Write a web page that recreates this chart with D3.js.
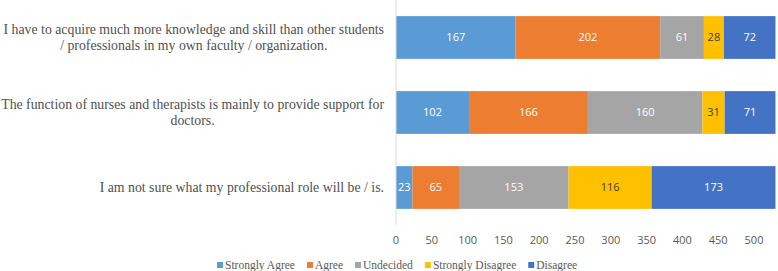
<!DOCTYPE html>
<html>
<head>
<meta charset="utf-8">
<script src="https://cdn.jsdelivr.net/npm/d3@7"></script>
<style>
  body { margin: 0; background: #fff; }
  svg { display: block; }
</style>
</head>
<body>
<div id="canvas"></div>
<script>
// DATA
const statements = [
  ["I have to acquire much more knowledge and skill than other students", "/ professionals in my own faculty / organization."],
  ["The function of nurses and therapists is mainly to provide support for", "doctors."],
  ["I am not sure what my professional role will be / is."]
];
const responses = ["Strongly Agree", "Agree", "Undecided", "Strongly Disagree", "Disagree"];
const stronglyAgree = [167, 102, 23];
const agree = [202, 166, 65];
const undecided = [61, 160, 153];
const stronglyDisagree = [28, 31, 116];
const disagree = [72, 71, 173];
const ticks = [0, 50, 100, 150, 200, 250, 300, 350, 400, 450, 500];

const colors = ["#5B9BD5", "#ED7D31", "#A5A5A5", "#FFC000", "#4472C4"];

// DIMENSIONS
const width = 778;
const height = 271;
const margin = { top: 0, left: 396, bottom: 46 };

const canvas = d3.select("#canvas")
  .append("svg")
  .attr("width", width)
  .attr("height", height);

// SCALES
const x = d3.scaleLinear().domain([0, 500]).range([margin.left, 754]);
const y = d3.scaleBand()
  .domain(d3.range(statements.length))
  .range([margin.top, height - margin.bottom])
  .paddingInner(0.43)
  .paddingOuter(0.215);

const rows = statements.map((s, i) => {
  const o = { i: i };
  o[responses[0]] = stronglyAgree[i];
  o[responses[1]] = agree[i];
  o[responses[2]] = undecided[i];
  o[responses[3]] = stronglyDisagree[i];
  o[responses[4]] = disagree[i];
  return o;
});
const stacked = d3.stack().keys(responses)(rows);

// BARS
const layers = canvas.selectAll("g.layer")
  .data(stacked)
  .join("g")
  .attr("class", "layer")
  .style("fill", (d, k) => colors[k]);

layers.selectAll("rect")
  .data(d => d)
  .join("rect")
  .attr("x", d => x(d[0]))
  .attr("y", d => y(d.data.i))
  .attr("width", d => x(d[1]) - x(d[0]))
  .attr("height", y.bandwidth());

// BAR LABELS
layers.each(function (layer, k) {
  d3.select(this).selectAll("text")
    .data(layer)
    .join("text")
    .attr("x", d => (x(d[0]) + x(d[1])) / 2)
    .attr("y", d => y(d.data.i) + y.bandwidth() / 2)
    .attr("dy", "0.35em")
    .attr("text-anchor", "middle")
    .style("font-family", "'Open Sans', sans-serif")
    .style("font-size", "11px")
    .style("fill", k === 3 ? "#404040" : "#fff")
    .text(d => d[1] - d[0]);
});

// AXIS LINE AT ZERO
canvas.append("line")
  .attr("x1", x(0)).attr("x2", x(0))
  .attr("y1", 0).attr("y2", 225)
  .style("stroke", "#d9d9d9")
  .style("stroke-width", 1);

// TICK LABELS
canvas.selectAll("text.tick")
  .data(ticks)
  .join("text")
  .attr("class", "tick")
  .attr("x", d => x(d))
  .attr("y", 244)
  .attr("text-anchor", "middle")
  .style("font-family", "'Open Sans', sans-serif")
  .style("font-size", "11px")
  .style("fill", "#595959")
  .text(d => d);

// CATEGORY LABELS
const labelRight = 384;
statements.forEach((lines, i) => {
  const g = canvas.append("text")
    .style("font-family", "'Liberation Serif', 'Times New Roman', serif")
    .style("font-size", "13.8px")
    .style("fill", "#505050")
    .attr("text-anchor", "middle");
  const spans = g.selectAll("tspan")
    .data(lines)
    .join("tspan")
    .text(d => d);
  let maxw = 0;
  spans.each(function () { maxw = Math.max(maxw, this.getComputedTextLength()); });
  const cx = labelRight - maxw / 2;
  const cy = y(i) + y.bandwidth() / 2;
  const lh = 16;
  spans
    .attr("x", cx)
    .attr("y", (d, j) => cy + (j - (lines.length - 1) / 2) * lh)
    .attr("dy", "0.35em");
});

// LEGEND
const legend = canvas.append("g");
let lx = 217;
responses.forEach((r, k) => {
  legend.append("rect")
    .attr("x", lx).attr("y", 262)
    .attr("width", 6).attr("height", 6)
    .style("fill", colors[k]);
  const t = legend.append("text")
    .attr("x", lx + 8).attr("y", 265)
    .attr("dy", "0.35em")
    .style("font-family", "'Liberation Serif', 'Times New Roman', serif")
    .style("font-size", "11.5px")
    .style("fill", "#595959")
    .text(r);
  lx += 8 + t.node().getComputedTextLength() + 12;
});
</script>
</body>
</html>
